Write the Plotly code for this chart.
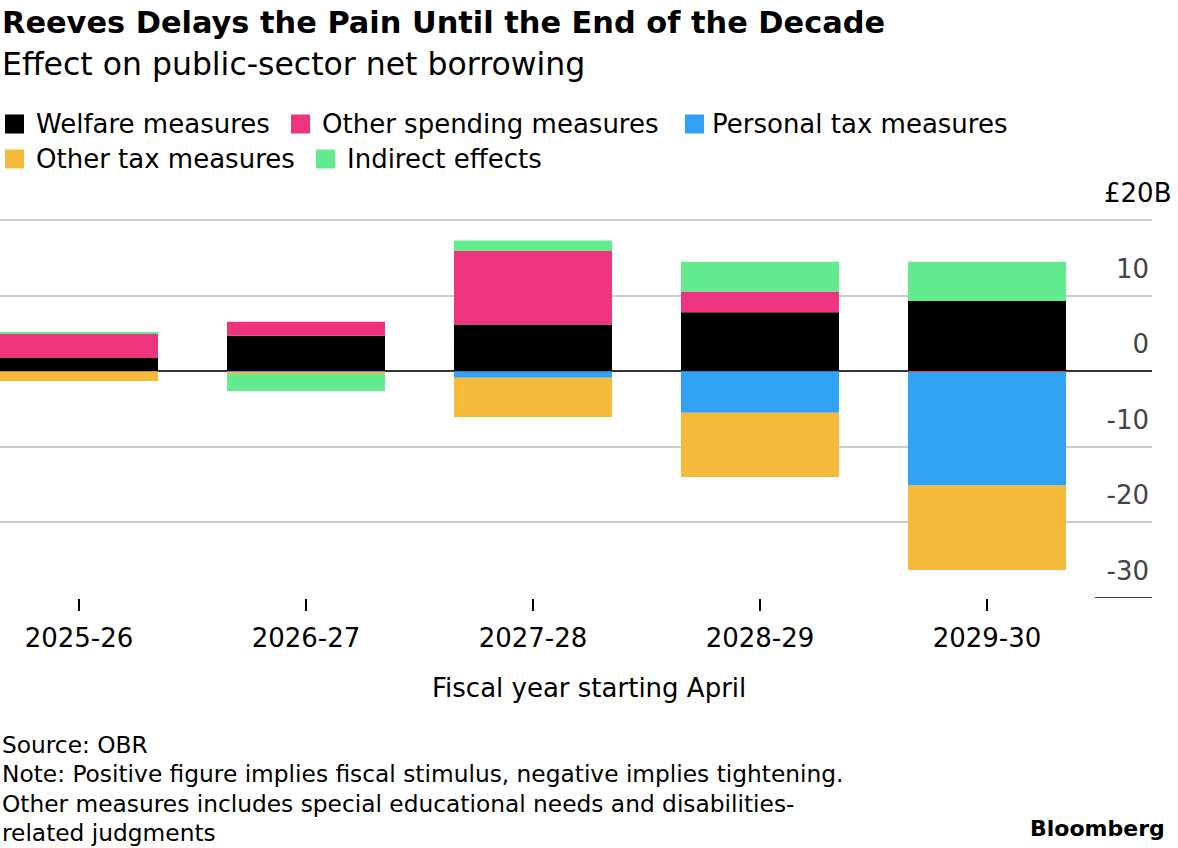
import plotly.graph_objects as go

years = ["2025-26", "2026-27", "2027-28", "2028-29", "2029-30"]
welfare = [1.75, 4.7, 6.2, 7.8, 9.3]
other_spending = [3.3, 1.85, 9.7, 2.75, -0.1]
personal_tax = [0.0, -0.1, -0.85, -5.5, -15.0]
other_tax = [-1.3, -0.25, -5.2, -8.5, -11.2]
indirect = [0.15, -2.25, 1.4, 3.95, 5.2]

series_names = ["Welfare measures", "Other spending measures", "Personal tax measures",
                "Other tax measures", "Indirect effects"]
series_vals = [welfare, other_spending, personal_tax, other_tax, indirect]
colors = ["#000000", "#EE347F", "#30A1F3", "#F6BA3A", "#63EC8F"]

y_ticks = [-30, -20, -10, 0, 10, 20]
y_tick_text = ["-30", "-20", "-10", "0", "10", ""]

W, H = 1178, 848
ML, MR, MT, MB = 0, 26, 205, 250
PW = W - ML - MR
PH = H - MT - MB

FONT = "DejaVu Sans"

fig = go.Figure()
for name, vals, c in zip(series_names, series_vals, colors):
    fig.add_trace(go.Bar(x=years, y=vals, name=name, marker=dict(color=c, line=dict(width=0)),
                         showlegend=False))

fig.update_layout(
    width=W, height=H,
    margin=dict(l=ML, r=MR, t=MT, b=MB),
    barmode="relative", bargap=0.304,
    plot_bgcolor="white", paper_bgcolor="white",
    font=dict(family=FONT, color="#000000", size=26),
)
fig.update_xaxes(
    type="category", range=[-0.348, 4.727], showgrid=False, showline=False, zeroline=False,
    ticks="outside", ticklen=12, tickwidth=1.5, tickcolor="#000000",
    tickfont=dict(size=26, family=FONT), ticklabelstandoff=5, fixedrange=True,
)
fig.update_yaxes(
    range=[-30, 22], tickvals=y_ticks, ticktext=y_tick_text, side="right",
    ticklabelposition="inside top", ticklabelshift=-9,
    showgrid=True, gridcolor="#cccccc", gridwidth=1.5,
    zeroline=True, zerolinecolor="#333333", zerolinewidth=2,
    showline=False, tickfont=dict(size=26, family=FONT), fixedrange=True,
)

# short baseline segment near the axis labels
fig.add_shape(type="line", xref="paper", yref="y", x0=(1095 - ML) / PW, x1=1.0, y0=-30, y1=-30,
              line=dict(color="#000000", width=1.5))

ann = []
# unit label
ann.append(dict(text="£20B", xref="paper", yref="y", x=(1173 - ML) / PW, y=20, xanchor="right",
                yanchor="bottom", yshift=10, showarrow=False, font=dict(size=26, family=FONT)))
# title / subtitle
ann.append(dict(text="<b>Reeves Delays the Pain Until the End of the Decade</b>", xref="paper",
                yref="paper", x=-ML / PW, y=1 + (MT - 22) / PH, xanchor="left", yanchor="middle",
                showarrow=False, font=dict(size=30.4, family=FONT)))
ann.append(dict(text="Effect on public-sector net borrowing", xref="paper", yref="paper",
                x=-ML / PW, y=1 + (MT - 64) / PH, xanchor="left", yanchor="middle", showarrow=False,
                font=dict(size=31.5, family=FONT)))

# legend (keys + labels)
legend_pos = [(5, 34, 124), (291, 320, 124), (685, 710, 124), (5, 34, 159), (316, 345, 159)]
for (sx, tx, cy), name, c in zip(legend_pos, series_names, colors):
    fig.add_shape(type="rect", xref="paper", yref="paper",
                  x0=(sx - ML) / PW, x1=(sx + 19 - ML) / PW,
                  y0=1 + (MT - (cy + 9.5)) / PH, y1=1 + (MT - (cy - 9.5)) / PH,
                  fillcolor=c, line=dict(width=0))
    ann.append(dict(text=name, xref="paper", yref="paper", x=(tx - ML) / PW,
                    y=1 + (MT - cy) / PH, xanchor="left", yanchor="middle", showarrow=False,
                    font=dict(size=26, family=FONT)))

# x axis title
ann.append(dict(text="Fiscal year starting April", xref="paper", yref="paper", x=(589 - ML) / PW,
                y=-(688 - (MT + PH)) / PH, xanchor="center", yanchor="middle", showarrow=False,
                font=dict(size=26, family=FONT)))

# footnotes
notes = ["Source: OBR",
         "Note: Positive figure implies fiscal stimulus, negative implies tightening.",
         "Other measures includes special educational needs and disabilities-",
         "related judgments"]
for i, t in enumerate(notes):
    cy = 744 + i * 29.5
    ann.append(dict(text=t, xref="paper", yref="paper", x=-ML / PW, y=-(cy - (MT + PH)) / PH,
                    xanchor="left", yanchor="middle", showarrow=False,
                    font=dict(size=23.3, family=FONT)))
ann.append(dict(text="<b>Bloomberg</b>", xref="paper", yref="paper", x=(1167 - ML) / PW,
                y=-(828 - (MT + PH)) / PH, xanchor="right", yanchor="middle", showarrow=False,
                font=dict(size=22, family=FONT)))

fig.update_layout(annotations=ann)
fig.write_html("out.html", config={"displayModeBar": False},
               post_script="document.body.style.margin='0';")
